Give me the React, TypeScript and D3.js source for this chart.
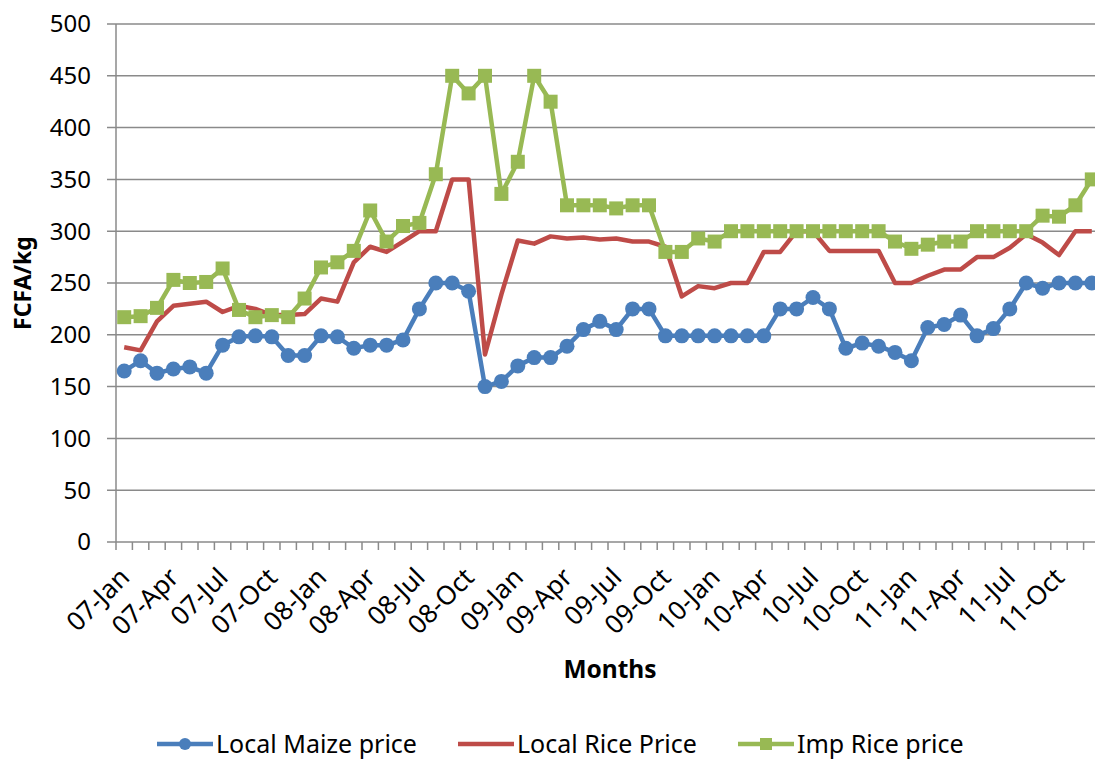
import React from "react";
import * as d3 from "d3";

const monthNames = ["Jan","Feb","Mar","Apr","May","Jun","Jul","Aug","Sep","Oct","Nov","Dec"];
const years = ["07","08","09","10","11"];
const months: string[] = years.flatMap((y) => monthNames.map((m) => `${y}-${m}`));

const maizePrice = [165,175,163,167,169,163,190,198,199,198,180,180,199,198,187,190,190,195,225,250,250,242,150,155,170,178,178,189,205,213,205,225,225,199,199,199,199,199,199,199,225,225,236,225,187,192,189,183,175,207,210,219,199,206,225,250,245,250,250,250];
const localRicePrice = [188,185,213,228,230,232,222,228,225,219,219,220,235,232,270,285,280,290,300,300,350,350,181,239,291,288,295,293,294,292,293,290,290,285,237,247,245,250,250,280,280,300,300,281,281,281,281,250,250,257,263,263,275,275,284,297,289,277,300,300];
const impRicePrice = [217,218,226,253,250,251,264,224,217,219,217,235,265,270,281,320,290,305,308,355,450,433,450,336,367,450,425,325,325,325,322,325,325,280,280,293,290,300,300,300,300,300,300,300,300,300,300,290,283,287,290,290,300,300,300,300,315,314,325,350];

const yTicks = [0,50,100,150,200,250,300,350,400,450,500];

const W = 1095, H = 759;
const left = 116, right = 1100, top = 24, bottom = 542;
const font = "'Noto Sans', sans-serif";

export default function App() {
  const x = d3.scaleBand<string>().domain(months).range([left, right]).paddingInner(0).paddingOuter(0);
  const y = d3.scaleLinear().domain([0, 500]).range([bottom, top]);
  const cx = (m: string) => (x(m) as number) + x.bandwidth() / 2;
  const line = d3.line<number>().x((_, i) => cx(months[i])).y((d) => y(d));

  const series = [
    { name: "Local Maize price", data: maizePrice, color: "#4A7EBB", marker: "circle" },
    { name: "Local Rice Price", data: localRicePrice, color: "#BE4B48", marker: "none" },
    { name: "Imp Rice price", data: impRicePrice, color: "#98B954", marker: "square" },
  ];
  const legendX = [157, 458, 738];

  return (
    <svg width={W} height={H} style={{ position: "absolute", left: 0, top: 0, background: "#fff" }} fontFamily={font}>
      {yTicks.map((t) => (
        <g key={t}>
          <line x1={left - 9} x2={right} y1={y(t)} y2={y(t)} stroke="#8a8a8a" strokeWidth={1.5} />
          <text x={91} y={y(t)} dy="0.35em" textAnchor="end" fontSize={24} fill="#000">{t}</text>
        </g>
      ))}
      <line x1={left} x2={left} y1={top} y2={bottom} stroke="#8a8a8a" strokeWidth={1.5} />
      {months.map((m) => (
        <line key={m} x1={(x(m) as number)} x2={(x(m) as number)} y1={bottom} y2={bottom + 8} stroke="#8a8a8a" strokeWidth={1.5} />
      ))}
      {months.map((m, i) => i % 3 === 0 ? (
        <text key={"l" + m} transform={`translate(${cx(m) + 7},${bottom + 37}) rotate(-45)`} textAnchor="end" fontSize={26} fill="#000">{m}</text>
      ) : null)}
      {series.map((s) => (
        <g key={s.name}>
          <path d={line(s.data) || ""} fill="none" stroke={s.color} strokeWidth={4.5} strokeLinejoin="round" />
          {s.marker === "circle" && s.data.map((d, i) => (
            <circle key={i} cx={cx(months[i])} cy={y(d)} r={7.5} fill={s.color} />
          ))}
          {s.marker === "square" && s.data.map((d, i) => (
            <rect key={i} x={cx(months[i]) - 7} y={y(d) - 7} width={14} height={14} fill={s.color} />
          ))}
        </g>
      ))}
      <text transform={`translate(31,283) rotate(-90)`} textAnchor="middle" fontSize={23} fontWeight="bold" fill="#000">FCFA/kg</text>
      <text x={610} y={678} textAnchor="middle" fontSize={24.5} fontWeight="bold" fill="#000">Months</text>
      {series.map((s, k) => (
        <g key={"lg" + s.name}>
          <line x1={legendX[k]} x2={legendX[k] + 56} y1={744} y2={744} stroke={s.color} strokeWidth={4.5} />
          {s.marker === "circle" && <circle cx={legendX[k] + 28} cy={744} r={6} fill={s.color} />}
          {s.marker === "square" && <rect x={legendX[k] + 22} y={738} width={12} height={12} fill={s.color} />}
          <text x={legendX[k] + 59} y={744} dy="0.35em" fontSize={25} fill="#000">{s.name}</text>
        </g>
      ))}
    </svg>
  );
}
